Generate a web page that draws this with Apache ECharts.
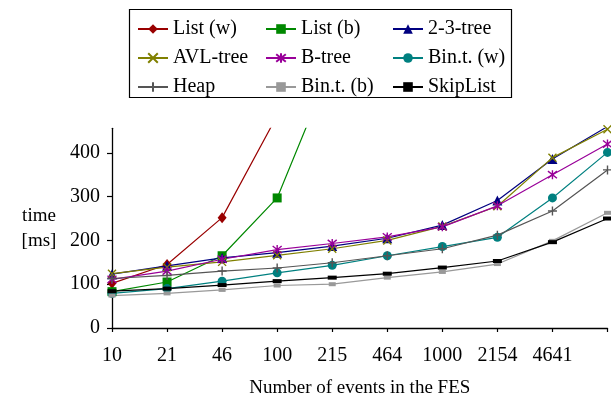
<!DOCTYPE html>
<html>
<head>
<meta charset="utf-8">
<script src="https://cdn.jsdelivr.net/npm/echarts@6/dist/echarts.min.js"></script>
<style>html,body{margin:0;padding:0;background:#fff;}#c{width:611px;height:403px;}</style>
</head>
<body>
<div id="c"></div>
<script>
var categories = ['10','21','46','100','215','464','1000','2154','4641','10000'];
var yTicks = [0, 100, 200, 300, 400];

var listW    = [102, 145, 252, 485, null, null, null, null, null, null];
var listB    = [83, 105, 165, 297, 603, null, null, null, null, null];
var tree23   = [123, 142, 160, 172, 187, 205, 235, 291, 386, 460];
var avlTree  = [124, 139, 151, 166, 181, 200, 232, 278, 389, 454];
var bTree    = [111, 130, 157, 179, 193, 208, 231, 279, 350, 420];
var binTW    = [79, 90, 107, 126, 143, 165, 186, 207, 297, 401];
var heap     = [113, 120, 130, 137, 149, 165, 181, 212, 267, 361];
var binTB    = [74, 79, 87, 97, 100, 115, 128, 146, 199, 263];
var skipList = [84, 90, 98, 107, 115, 124, 138, 153, 196, 250];

var FONT = 'Liberation Serif';
var X_PATH = 'path://M0,0L10,10M10,0L0,10';
var AST_PATH = 'path://M1,1L9,9M9,1L1,9M5,0L5,10';
var PLUS_PATH = 'path://M5,0L5,10M0,5L10,5';

function mk(name, data, color, symbol, size, stroke) {
  var s = {
    name: name, type: 'line', data: data, symbol: symbol, symbolSize: size,
    showAllSymbol: true, connectNulls: false, animation: false,
    lineStyle: { color: color, width: 1.2 },
    itemStyle: { color: color }
  };
  if (stroke) {
    s.itemStyle = { color: color, borderColor: color, borderWidth: 1.4 };
  }
  return s;
}

var series = [
  mk('List (w)', listW, '#990000', 'diamond', [9, 11]),
  mk('List (b)', listB, '#008800', 'rect', 9),
  mk('2-3-tree', tree23, '#000080', 'triangle', 10),
  mk('AVL-tree', avlTree, '#808000', X_PATH, 8, true),
  mk('B-tree', bTree, '#990099', AST_PATH, 9, true),
  mk('Bin.t. (w)', binTW, '#008080', 'circle', 9),
  mk('Heap', heap, '#555555', PLUS_PATH, 9, true),
  mk('Bin.t. (b)', binTB, '#999999', 'rect', [7, 4]),
  mk('SkipList', skipList, '#000000', 'rect', [9, 4])
];

function legendCol(left, names) {
  return {
    orient: 'vertical', left: left, top: 19, padding: 0, itemGap: 9,
    itemWidth: 30, itemHeight: 12, selectedMode: false,
    textStyle: { fontFamily: FONT, fontSize: 20, color: '#000' },
    data: names
  };
}

var chart = echarts.init(document.getElementById('c'), null, { renderer: 'canvas' });
chart.setOption({
  animation: false,
  backgroundColor: '#fff',
  grid: { left: 112, right: 3.5, top: 128.3, bottom: 73, containLabel: false },
  legend: [
    legendCol(137, ['List (w)', 'AVL-tree', 'Heap']),
    legendCol(265, ['List (b)', 'B-tree', 'Bin.t. (b)']),
    legendCol(392, ['2-3-tree', 'Bin.t. (w)', 'SkipList'])
  ],
  graphic: [{
    type: 'rect', shape: { x: 129.5, y: 9.5, width: 382, height: 88 },
    style: { fill: 'none', stroke: '#000', lineWidth: 1.2 }, silent: true
  }],
  xAxis: {
    type: 'category', data: categories, boundaryGap: false,
    name: 'Number of events in the FES', nameLocation: 'middle', nameGap: 51,
    nameTextStyle: { fontFamily: FONT, fontSize: 19, color: '#000' },
    axisLine: { lineStyle: { color: '#000', width: 1.3 } },
    axisTick: { show: true, length: 4, lineStyle: { color: '#000', width: 1.2 } },
    axisLabel: {
      fontFamily: FONT, fontSize: 20, color: '#000', margin: 18, interval: 0,
      formatter: function (v, i) { return i === categories.length - 1 ? '' : v; }
    },
    splitLine: { show: false }
  },
  yAxis: {
    type: 'value', min: 0, max: 456, interval: 100,
    name: 'time\n[ms]', nameLocation: 'middle', nameRotate: 0, nameGap: 73,
    nameTextStyle: { fontFamily: FONT, fontSize: 19, color: '#000', align: 'center', lineHeight: 25 },
    axisLine: { show: true, lineStyle: { color: '#000', width: 1.3 } },
    axisTick: { show: true, length: 5, customValues: yTicks, lineStyle: { color: '#000', width: 1.2 } },
    axisLabel: { fontFamily: FONT, fontSize: 20, color: '#000', margin: 12, customValues: yTicks },
    splitLine: { show: false }
  },
  series: series
});
</script>
</body>
</html>
